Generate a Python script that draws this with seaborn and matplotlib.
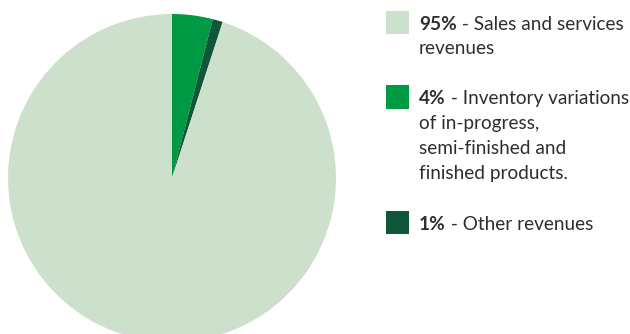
import matplotlib
matplotlib.use("Agg")
import matplotlib.pyplot as plt
import seaborn as sns
from matplotlib.patches import Rectangle

sns.set_theme(style="white")
plt.rcParams["font.family"] = ["Lato", "DejaVu Sans"]

# Revenue breakdown
shares = [4, 1, 95]
share_labels = ["4%", "1%", "95%"]
descriptions = [
    " - Inventory variations\nof in-progress,\nsemi-finished and\nfinished products.",
    " - Other revenues",
    " - Sales and services\nrevenues",
]
colors = ["#009a44", "#10573a", "#cde0cb"]

# legend order (top to bottom)
legend_order = [2, 0, 1]

W, H = 630, 334
fig = plt.figure(figsize=(W / 100, H / 100), dpi=100)
fig.patch.set_facecolor("white")

# pie axes: centre (172, 178) px, radius 164 px
cx, cy, r = 172, 178, 164
ax = fig.add_axes([(cx - r) / W, (H - cy - r) / H, 2 * r / W, 2 * r / H])
ax.pie(shares, colors=colors, startangle=90, counterclock=False,
       wedgeprops=dict(linewidth=0))
ax.set_xlim(-1, 1)
ax.set_ylim(-1, 1)
ax.set_aspect("equal")
ax.axis("off")

text_color = "#2e2e2e"
fs = 13.7
sq_x, sq_size = 386, 23
txt_x = 419
baselines = [29.5, 104, 229.5]
line_step = 25

renderer = fig.canvas.get_renderer()
for pos, idx in enumerate(legend_order):
    base = baselines[pos]
    fig.patches.append(Rectangle((sq_x / W, (H - base - 4.5) / H),
                                 sq_size / W, sq_size / H,
                                 transform=fig.transFigure,
                                 facecolor=colors[idx], edgecolor="none"))
    lines = descriptions[idx].split("\n")
    bold = fig.text(txt_x / W, (H - base) / H, share_labels[idx],
                    fontsize=fs, fontweight="bold", color=text_color,
                    va="baseline", ha="left")
    ext = bold.get_window_extent(renderer=renderer)
    fig.text(ext.x1 / W, (H - base) / H, lines[0], fontsize=fs,
             color=text_color, va="baseline", ha="left")
    for k, ln in enumerate(lines[1:], start=1):
        fig.text(txt_x / W, (H - base - k * line_step) / H, ln, fontsize=fs,
                 color=text_color, va="baseline", ha="left")

fig.savefig("out.png", dpi=100, facecolor="white")
